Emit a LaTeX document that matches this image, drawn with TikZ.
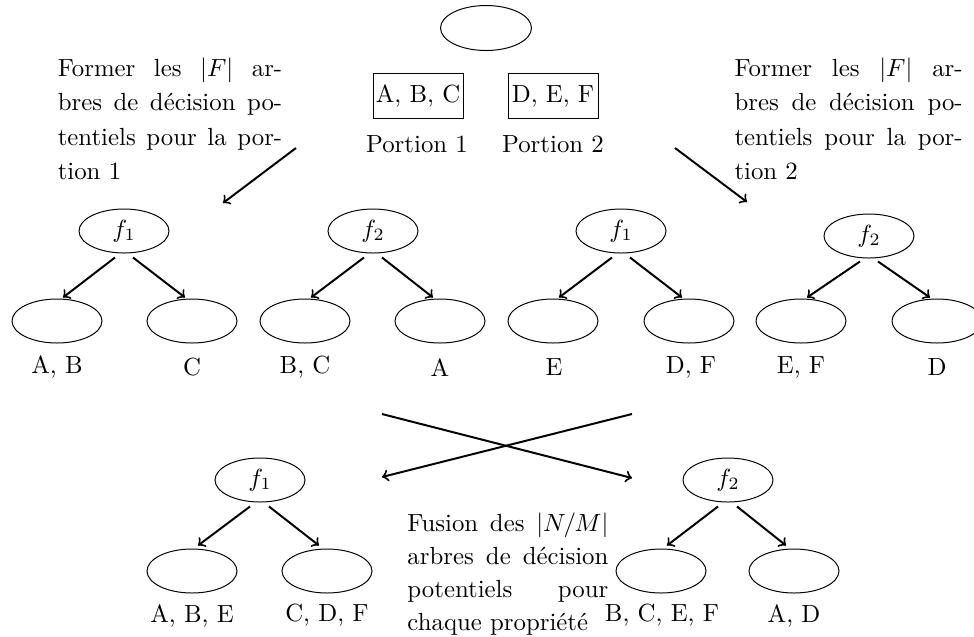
\documentclass[tikz,border=0pt]{standalone}
\usetikzlibrary{shapes.geometric,calc}
\newdimen\pxu \pxu=0.4032pt
% a line of text whose spaces stretch to the given width
\newcommand\spreadline[2]{\hbox to #1{\spaceskip=0pt\xspaceskip=0pt #2}}
\begin{document}
\begin{tikzpicture}[x=\pxu,y=-\pxu,
  blob/.style={ellipse,draw,line width=0.4pt,minimum width=90\pxu,minimum height=44\pxu,inner sep=0pt},
  part/.style={rectangle,draw,line width=0.4pt,minimum width=90\pxu,minimum height=45\pxu,inner sep=1pt},
  arr/.style={->,thick},
  lbl/.style={inner sep=2pt},
  note/.style={anchor=base west,inner sep=0pt,font=\fontsize{10}{13.8}\selectfont}
]
\useasboundingbox (0,0) rectangle (974,636);

% root and the two portions
\node[blob,minimum width=91\pxu,minimum height=45\pxu] (top) at (486,28) {};
\node[part] (pa) at (418,96) {A, B, C};
\node[part] (pb) at (553,96) {D, E, F};
\node[anchor=base] (pla) at (417,152) {Portion 1};
\node[anchor=base] (plb) at (553,152) {Portion 2};

% side notes
\node[note,text width=90.5pt] (txl) at (57.3,76.7) {%
\spreadline{90.5pt}{Former les $|F|$ ar-}
\spreadline{90.5pt}{bres de décision po-}
\spreadline{90.5pt}{tentiels pour la por-}
\hbox{tion 1}};
\node[note,text width=92pt] (txr) at (734,76.7) {%
\spreadline{92pt}{Former les $|F|$ ar-}
\spreadline{92pt}{bres de décision po-}
\spreadline{92pt}{tentiels pour la por-}
\hbox{tion 2}};

\coordinate (sa) at (296,148);
\coordinate (ea) at (223,203);
\coordinate (sb) at (675,148);
\coordinate (eb) at (747,202);
\draw[arr] (sa) -- (ea);
\draw[arr] (sb) -- (eb);

% first row of trees
\node[blob] (t1) at (124,231) {$f_1$};
\node[blob] (t1a) at (57,321) {};
\node[blob] (t1b) at (192,321) {};
\node[lbl] (l1a) at (57,367.5) {A, B};
\node[lbl] (l1b) at (192,367.5) {C};

\node[blob] (t2) at (373,231) {$f_2$};
\node[blob] (t2a) at (305,321) {};
\node[blob] (t2b) at (440,321) {};
\node[lbl] (l2a) at (305,367.5) {B, C};
\node[lbl] (l2b) at (440,367.5) {A};

\node[blob] (t3) at (621,231) {$f_1$};
\node[blob] (t3a) at (553,321) {};
\node[blob] (t3b) at (689,321) {};
\node[lbl] (l3a) at (554,367.5) {E};
\node[lbl] (l3b) at (691,367.5) {D, F};

\node[blob] (t4) at (869,236) {$f_2$};
\node[blob] (t4a) at (801,321) {};
\node[blob] (t4b) at (937,321) {};
\node[lbl] (l4a) at (801,367.5) {E, F};
\node[lbl] (l4b) at (937,367.5) {D};

\foreach \t/\d in {t1/4,t2/4,t3/4,t4/3}{
  \draw[arr] ($(\t.south)+(-9,\d)$) -- ($(\t a.north)+(6,-1)$);
  \draw[arr] ($(\t.south)+(9,\d)$) -- ($(\t b.north)+(-7,-1)$);
}

% crossing arrows
\coordinate (xa) at (382,414);
\coordinate (xb) at (632,478);
\coordinate (xc) at (632,414);
\coordinate (xd) at (382,477);
\draw[arr] (xa) -- (xb);
\draw[arr] (xc) -- (xd);

% merged trees
\node[blob] (m1) at (260,480) {$f_1$};
\node[blob] (m1a) at (192,571) {};
\node[blob] (m1b) at (327,571) {};
\node[lbl] (k1a) at (192,615.6) {A, B, E};
\node[lbl] (k1b) at (327,615.6) {C, D, F};

\node[blob] (m2) at (728,480) {$f_2$};
\node[blob] (m2a) at (661,571) {};
\node[blob] (m2b) at (794,571) {};
\node[lbl] (k2a) at (662,615.6) {B, C, E, F};
\node[lbl] (k2b) at (794,615.6) {A, D};

\foreach \t in {m1,m2}{
  \draw[arr] ($(\t.south)+(-10,4)$) -- ($(\t a.north)+(6,-3)$);
  \draw[arr] ($(\t.south)+(9,4)$) -- ($(\t b.north)+(-8,-3)$);
}

\node[note,font=\fontsize{10}{13.4}\selectfont,text width=81pt] (txf) at (407,531) {%
\spreadline{81pt}{Fusion des $|N/M|$}
\spreadline{81pt}{arbres de décision}
\spreadline{81pt}{potentiels pour}
\hbox{chaque propriété}};
\end{tikzpicture}
\end{document}
